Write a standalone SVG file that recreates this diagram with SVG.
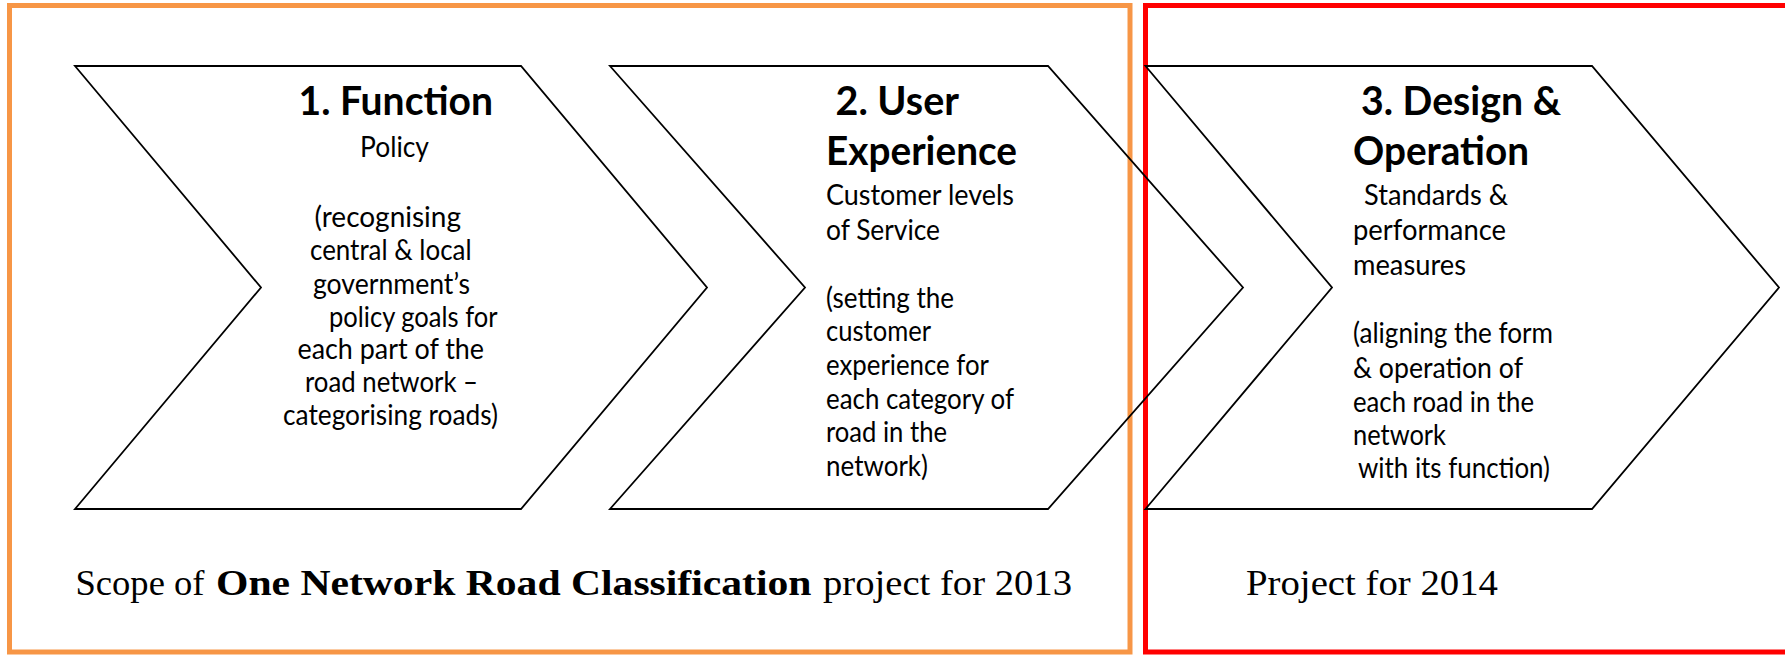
<svg xmlns="http://www.w3.org/2000/svg" width="1785" height="655" viewBox="0 0 1785 655">
<style>
.bg{fill:#ffffff}
.chev{fill:none;stroke:#000000;stroke-width:1.8;stroke-linejoin:miter}
.frame{fill:none;stroke-width:5}
.t{font-family:Lato,"Liberation Sans",sans-serif;font-size:28px;fill:#000000}
.h{font-family:Lato,"Liberation Sans",sans-serif;font-size:41px;font-weight:bold;fill:#000000}
.s{font-family:"Liberation Serif","DejaVu Serif",serif;font-size:36px;fill:#000000}
.sb{font-weight:bold}
</style>
<rect class="bg" x="0" y="0" width="1785" height="655"/>
<g id="frames">
  <rect id="scope2013" class="frame" x="9.5" y="5.5" width="1120.5" height="646.5" stroke="#F79646"/>
  <rect id="scope2014" class="frame" x="1145.5" y="5.5" width="1633" height="646.5" stroke="#FF0000"/>
</g>
<g id="connectors"></g>
<g id="node-function">
  <polygon class="chev" points="75,66 521,66 707,287.5 521,509 75,509 261,287.5"/>
  <text class="h" x="298.5" y="115" textLength="194.5" lengthAdjust="spacingAndGlyphs">1. Function</text>
  <text class="t" x="360" y="157" textLength="69" lengthAdjust="spacingAndGlyphs">Policy</text>
  <text class="t" x="314.5" y="227" textLength="146.5" lengthAdjust="spacingAndGlyphs">(recognising</text>
  <text class="t" x="310" y="260" textLength="161.5" lengthAdjust="spacingAndGlyphs">central &amp; local</text>
  <text class="t" x="313" y="293.5" textLength="157" lengthAdjust="spacingAndGlyphs">government’s</text>
  <text class="t" x="329" y="326.5" textLength="168.5" lengthAdjust="spacingAndGlyphs">policy goals for</text>
  <text class="t" x="297.5" y="359" textLength="186.5" lengthAdjust="spacingAndGlyphs">each part of  the</text>
  <text class="t" x="305" y="392" textLength="173" lengthAdjust="spacingAndGlyphs">road network –</text>
  <text class="t" x="283" y="425" textLength="215" lengthAdjust="spacingAndGlyphs">categorising roads)</text>
</g>
<g id="node-user-experience">
  <polygon class="chev" points="610,66 1048,66 1243,287.5 1048,509 610,509 805,287.5"/>
  <text class="h" x="835.5" y="115" textLength="123.5" lengthAdjust="spacingAndGlyphs">2. User</text>
  <text class="h" x="826" y="165" textLength="191" lengthAdjust="spacingAndGlyphs">Experience</text>
  <text class="t" x="826" y="205" textLength="188" lengthAdjust="spacingAndGlyphs">Customer levels</text>
  <text class="t" x="826" y="240" textLength="114" lengthAdjust="spacingAndGlyphs">of Service</text>
  <text class="t" x="826" y="308" textLength="128" lengthAdjust="spacingAndGlyphs">(setting the</text>
  <text class="t" x="826" y="341" textLength="105" lengthAdjust="spacingAndGlyphs">customer</text>
  <text class="t" x="826" y="375" textLength="163" lengthAdjust="spacingAndGlyphs">experience for</text>
  <text class="t" x="826" y="408.5" textLength="188" lengthAdjust="spacingAndGlyphs">each category of</text>
  <text class="t" x="826" y="442" textLength="121" lengthAdjust="spacingAndGlyphs">road in the</text>
  <text class="t" x="826" y="475.5" textLength="102" lengthAdjust="spacingAndGlyphs">network)</text>
</g>
<g id="node-design-operation">
  <polygon class="chev" points="1145.5,66 1592,66 1779,287.5 1592,509 1145.5,509 1332,287.5"/>
  <text class="h" x="1361" y="115" textLength="200" lengthAdjust="spacingAndGlyphs">3. Design &amp;</text>
  <text class="h" x="1353" y="165" textLength="176" lengthAdjust="spacingAndGlyphs">Operation</text>
  <text class="t" x="1364" y="205" textLength="144" lengthAdjust="spacingAndGlyphs">Standards &amp;</text>
  <text class="t" x="1353" y="240" textLength="153" lengthAdjust="spacingAndGlyphs">performance</text>
  <text class="t" x="1353" y="275" textLength="113" lengthAdjust="spacingAndGlyphs">measures</text>
  <text class="t" x="1353" y="343" textLength="200" lengthAdjust="spacingAndGlyphs">(aligning the form</text>
  <text class="t" x="1353" y="378" textLength="170" lengthAdjust="spacingAndGlyphs">&amp;  operation of</text>
  <text class="t" x="1353" y="412" textLength="181" lengthAdjust="spacingAndGlyphs">each road in the</text>
  <text class="t" x="1353" y="445" textLength="93" lengthAdjust="spacingAndGlyphs">network</text>
  <text class="t" x="1358" y="478" textLength="192" lengthAdjust="spacingAndGlyphs">with its function)</text>
</g>
<g id="label-2013">
  <text class="s" x="75.5" y="595" textLength="129" lengthAdjust="spacingAndGlyphs">Scope of</text>
  <text class="s sb" x="216" y="595" textLength="595.5" lengthAdjust="spacingAndGlyphs">One Network Road Classification</text>
  <text class="s" x="823" y="595" textLength="249" lengthAdjust="spacingAndGlyphs">project for 2013</text>
</g>
<g id="label-2014">
  <text class="s" x="1246" y="595" textLength="252" lengthAdjust="spacingAndGlyphs">Project for 2014</text>
</g>
</svg>
